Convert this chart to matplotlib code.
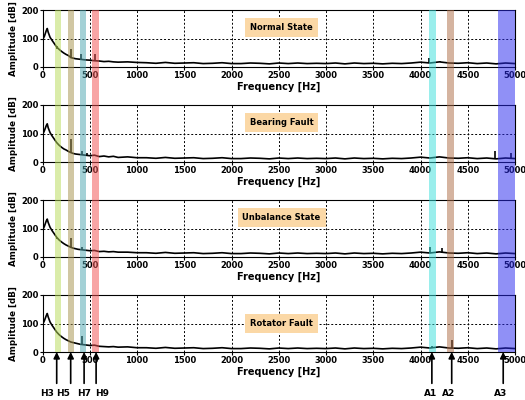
import matplotlib
matplotlib.use("Agg")
import matplotlib.pyplot as plt
from matplotlib.patches import Rectangle
from matplotlib.transforms import blended_transform_factory

# frequency grid (Hz)
freq_low = [0, 20, 40, 50, 60, 80, 100, 125, 150, 175, 200, 225, 250, 275, 300,
            325, 350, 375, 400, 450, 500, 550, 600, 650, 700, 750, 800, 900, 1000]
freq_high = [1100, 1200, 1300, 1400, 1500, 1600, 1700, 1800, 1900, 2000,
             2100, 2200, 2300, 2400, 2500, 2600, 2700, 2800, 2900, 3000,
             3100, 3200, 3300, 3400, 3500, 3600, 3700, 3800, 3900, 4000,
             4100, 4200, 4300, 4400, 4500, 4600, 4700, 4800, 4900, 5000]

# amplitude [dB], low band per state
normal_low = [95, 108, 128, 135, 122, 104, 94, 82, 70, 62, 55, 49, 44, 40, 33,
              31, 29, 28, 27, 25, 24, 22, 21, 19, 20, 18, 17, 18, 16]
bearing_low = [95, 110, 128, 134, 120, 103, 92, 80, 68, 59, 52, 46, 42, 37, 33,
               30, 28, 27, 26, 24, 22, 24, 19, 21, 18, 20, 16, 18, 15]
unbalance_low = [93, 108, 127, 133, 121, 104, 93, 81, 69, 60, 53, 47, 42, 38, 34,
                 31, 29, 27, 26, 24, 22, 23, 19, 20, 18, 19, 17, 17, 15]
rotator_low = [96, 110, 128, 135, 123, 105, 94, 82, 70, 61, 54, 48, 43, 39, 35,
               33, 31, 29, 27, 25, 23, 24, 20, 19, 18, 19, 17, 18, 15]
tail = [15, 13, 16, 13, 14, 15, 12, 13, 15, 12,
        12, 14, 13, 11, 14, 12, 14, 12, 13, 12,
        14, 11, 14, 12, 13, 11, 13, 12, 14, 17,
        14, 18, 14, 13, 15, 12, 14, 11, 14, 12]

# narrow peaks: frequency, foot, top
normal_spk = ([150, 300, 410, 560, 4090, 4210], [62, 30, 26, 22, 14, 17], [74, 64, 44, 46, 32, 22])
bearing_spk = ([300, 420, 470, 4790, 4960], [33, 26, 24, 12, 12], [82, 38, 32, 38, 32])
unbalance_spk = ([150, 300, 420, 4100, 4230], [62, 32, 26, 14, 15], [68, 66, 34, 35, 30])
rotator_spk = ([420, 4120, 4330], [26, 13, 14], [56, 22, 42])

states = ["Normal State", "Bearing Fault", "Unbalance State", "Rotator Fault"]
lows = [normal_low, bearing_low, unbalance_low, rotator_low]
spikes = [normal_spk, bearing_spk, unbalance_spk, rotator_spk]
label_y = [138, 138, 138, 100]

# highlighted bands (start, end Hz) and colours
bands = [(130, 200), (265, 330), (395, 465), (525, 595),
         (4090, 4160), (4280, 4350), (4815, 5000)]
band_colors = ["#b8dc5a", "#a89550", "#4fa8b2", "#f25454",
               "#3de0dc", "#b0704a", "#2a2aee"]

# arrows under last panel
arrow_f = [150, 298, 440, 567, 4120, 4330, 4875]
arrow_txt = ["H3", "H5", "H7", "H9", "A1", "A2", "A3"]
arrow_txt_f = [45, 215, 437, 627, 4110, 4300, 4850]

fig = plt.figure(figsize=(5.25, 4.0), dpi=100)
tops = [10, 105, 200, 295]
axes = []
for i, top in enumerate(tops):
    ax = fig.add_axes([0.081, 1 - (top + 57) / 400, 0.900, 57 / 400])
    axes.append(ax)
    x = freq_low + freq_high
    y = lows[i] + tail
    ax.plot(x, y, color="black", lw=1.2)
    f, lo, hi = spikes[i]
    ax.vlines(f, lo, hi, color="black", lw=1.2)
    ax.set_xlim(0, 5000)
    ax.set_ylim(0, 200)
    ax.set_xticks(range(0, 5001, 500))
    ax.set_yticks([0, 100, 200])
    ax.tick_params(labelsize=6, length=2, pad=1)
    for lab in ax.get_xticklabels() + ax.get_yticklabels():
        lab.set_fontweight("bold")
    ax.grid(True, color="black", linestyle=(0, (2, 2)), lw=0.7)
    ax.set_xlabel("Frequency [Hz]", fontsize=7, fontweight="bold", labelpad=1)
    ax.set_ylabel("Amplitude [dB]", fontsize=6.3, fontweight="bold", labelpad=2)
    ax.text(2530, label_y[i], states[i], fontsize=6, fontweight="bold",
            ha="center", va="center",
            bbox=dict(facecolor="#fbd8a6", edgecolor="none", pad=3.5))

# vertical bands across all panels
trans = blended_transform_factory(axes[0].transData, fig.transFigure)
ybot = 1 - 352 / 400
ytop = 1 - 10 / 400
for (a, b), c in zip(bands, band_colors):
    fig.add_artist(Rectangle((a, ybot), b - a, ytop - ybot, transform=trans,
                             facecolor=c, edgecolor="none", alpha=0.52, zorder=5))

ax = axes[-1]
for f, t, tf in zip(arrow_f, arrow_txt, arrow_txt_f):
    ax.annotate("", xy=(f, 0), xycoords=("data", "axes fraction"),
                xytext=(f, -0.55), textcoords=("data", "axes fraction"),
                arrowprops=dict(arrowstyle="-|>", color="black", lw=1.2,
                                mutation_scale=9, shrinkA=0, shrinkB=0),
                annotation_clip=False)
    ax.text(tf, -0.72, t, transform=blended_transform_factory(ax.transData, ax.transAxes),
            fontsize=6.5, fontweight="bold", ha="center", va="center")

fig.savefig("out.png", dpi=100)
